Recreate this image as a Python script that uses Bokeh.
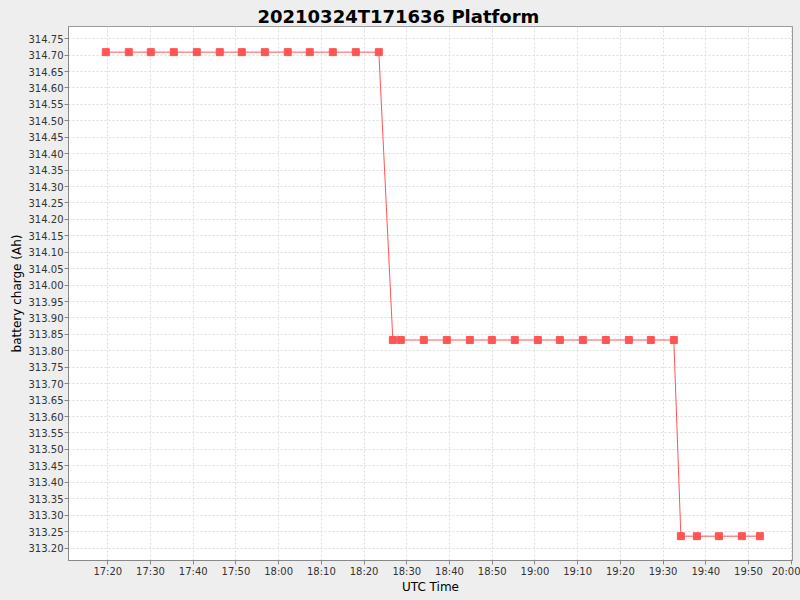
from datetime import datetime
from bokeh.plotting import figure
from bokeh.models import FixedTicker, PrintfTickFormatter, DatetimeTickFormatter, Range1d
from bokeh.embed import file_html
from bokeh.resources import INLINE

DAY = "2021-03-24 "
times = ["17:19:32", "17:24:55", "17:30:04", "17:35:27", "17:40:50", "17:46:13",
         "17:51:22", "17:56:46", "18:02:08", "18:07:17", "18:12:41", "18:18:04",
         "18:23:27", "18:26:44", "18:28:36", "18:33:59", "18:39:22", "18:44:46",
         "18:49:55", "18:55:17", "19:00:41", "19:05:50", "19:11:13", "19:16:36",
         "19:21:59", "19:27:08", "19:32:31", "19:34:10", "19:37:55", "19:43:04",
         "19:48:26", "19:52:40"]
charge = [314.709] * 13 + [313.833] * 14 + [313.236] * 5

x_tick_labels = ["17:20", "17:30", "17:40", "17:50", "18:00", "18:10", "18:20", "18:30",
                 "18:40", "18:50", "19:00", "19:10", "19:20", "19:30", "19:40", "19:50", "20:00"]
y_tick_labels = ["313.20", "313.25", "313.30", "313.35", "313.40", "313.45", "313.50",
                 "313.55", "313.60", "313.65", "313.70", "313.75", "313.80", "313.85",
                 "313.90", "313.95", "314.00", "314.05", "314.10", "314.15", "314.20",
                 "314.25", "314.30", "314.35", "314.40", "314.45", "314.50", "314.55",
                 "314.60", "314.65", "314.70", "314.75"]

def ts(s):
    fmt = "%Y-%m-%d %H:%M:%S" if s.count(":") == 2 else "%Y-%m-%d %H:%M"
    return datetime.strptime(DAY + s, fmt)

xs = [ts(t) for t in times]

def ms(d):
    return (d - datetime(1970, 1, 1)).total_seconds() * 1000.0

p = figure(width=800, height=600, x_axis_type="datetime", output_backend="svg",
           toolbar_location=None, title="20210324T171636 Platform",
           min_border_left=68, min_border_right=8, min_border_top=26, min_border_bottom=40)

p.x_range = Range1d(ms(ts("17:10:48")), ms(ts("20:00:18")))
p.y_range = Range1d(313.162, 314.787)

p.line(xs, charge, line_color="#FF5555", line_width=1)
p.scatter(xs, charge, marker="square", size=7, fill_color="#FF5555", line_color="#FF5555")

p.xaxis.ticker = FixedTicker(ticks=[ms(ts(t)) for t in x_tick_labels])
p.xaxis.formatter = DatetimeTickFormatter(minutes="%H:%M", hours="%H:%M", hourmin="%H:%M")
p.yaxis.ticker = FixedTicker(ticks=[float(v) for v in y_tick_labels])
p.yaxis.formatter = PrintfTickFormatter(format="%.2f")

p.xaxis.axis_label = "UTC Time"
p.yaxis.axis_label = "battery charge (Ah)"

for ax in (p.xaxis, p.yaxis):
    ax.axis_line_color = "#888888"
    ax.major_tick_line_color = "#888888"
    ax.minor_tick_line_color = None
    ax.major_tick_out = 4
    ax.major_tick_in = 0
    ax.major_label_text_font = "DejaVu Sans"
    ax.major_label_text_font_size = "10px"
    ax.major_label_text_color = "#333333"
    ax.axis_label_text_font = "DejaVu Sans"
    ax.axis_label_text_font_size = "12px"
    ax.axis_label_text_font_style = "normal"
    ax.axis_label_text_color = "#000000"

p.xaxis.major_label_standoff = 1
p.xaxis.axis_label_standoff = 0
p.yaxis.major_label_standoff = 1
p.yaxis.axis_label_standoff = 2

p.grid.grid_line_color = "#DDDDDD"
p.grid.grid_line_dash = "2 2"
p.grid.grid_line_width = 1

p.background_fill_color = "#FFFFFF"
p.border_fill_color = "#EEEEEE"
p.outline_line_color = "#999999"

p.title.text_font = "DejaVu Sans"
p.title.text_font_size = "18px"
p.title.text_font_style = "bold"
p.title.text_color = "#000000"
p.title.align = "left"
p.title.offset = 189
p.title.standoff = 0
p.title.text_line_height = 1.0

template = """
{% block preamble %}<style>html, body { background: #EEEEEE; margin: 0; padding: 0; }</style>{% endblock %}
"""

open("out.html", "w").write(file_html(p, INLINE, template=template))
